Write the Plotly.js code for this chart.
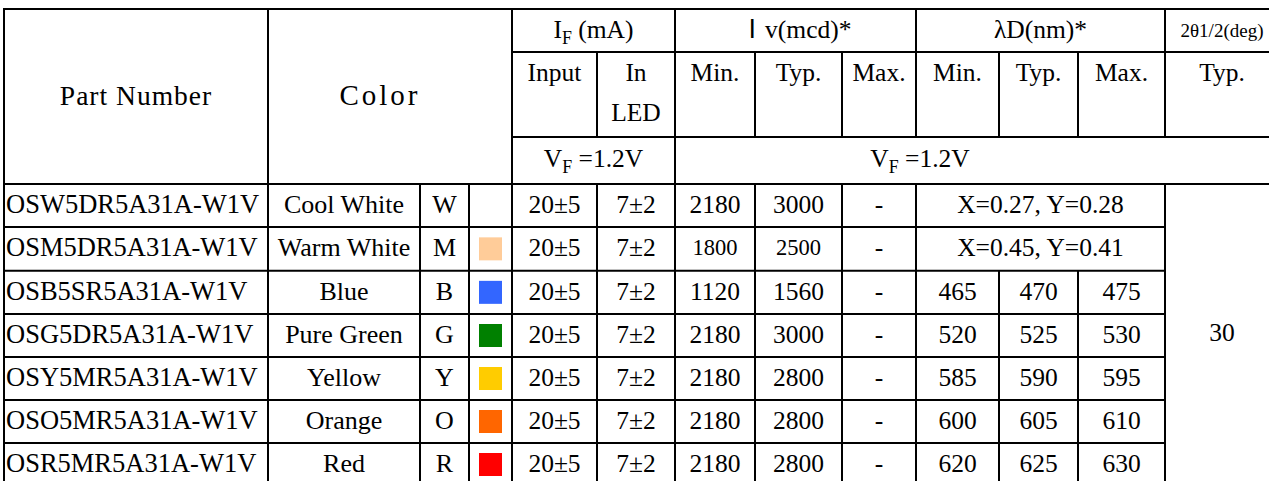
<!DOCTYPE html>
<html>
<head>
<meta charset="utf-8">
<script src="https://cdn.plot.ly/plotly-3.0.1.min.js"></script>
<style>html,body{margin:0;padding:0;background:#fff;}#chart{width:1269px;height:481px;}</style>
</head>
<body>
<div id="chart"></div>
<script>
// ---------- data ----------
const partNumbers = ["OSW5DR5A31A-W1V","OSM5DR5A31A-W1V","OSB5SR5A31A-W1V","OSG5DR5A31A-W1V","OSY5MR5A31A-W1V","OSO5MR5A31A-W1V","OSR5MR5A31A-W1V"];
const colorNames  = ["Cool White","Warm White","Blue","Pure Green","Yellow","Orange","Red"];
const colorCodes  = ["W","M","B","G","Y","O","R"];
const swatchColors = [null,"#FFCC99","#3366FF","#008000","#FFCC00","#FF6600","#FF0000"];
const ifInput = ["20±5","20±5","20±5","20±5","20±5","20±5","20±5"];
const ifLed   = ["7±2","7±2","7±2","7±2","7±2","7±2","7±2"];
const ivMin = [2180,1800,1120,2180,2180,2180,2180];
const ivTyp = [3000,2500,1560,3000,2800,2800,2800];
const ivMax = ["-","-","-","-","-","-","-"];
const chromaticity = ["X=0.27, Y=0.28","X=0.45, Y=0.41",null,null,null,null,null];
const ldMin = [null,null,465,520,585,600,620];
const ldTyp = [null,null,470,525,590,605,625];
const ldMax = [null,null,475,530,595,610,630];
const viewAngle = 30;
const headerMain = ["Part Number","Color"];
const headerTop = ["I<sub>F</sub> (mA)","<span style=\"font-family:'Noto Sans CJK JP'\">Ⅰ</span>v(mcd)*","λD(nm)*","2θ1/2(deg)"];
const headerSub = ["Input","In","Min.","Typ.","Max.","Min.","Typ.","Max.","Typ."];
const headerSub2 = ["LED"];
const vfLabels = ["V<sub>F</sub> =1.2V","V<sub>F</sub> =1.2V"];

// ---------- layout geometry ----------
const W = 1269, H = 481;
const cx = [4,268,420,469,512,597,675,755,842,916,999,1078,1165,1277];
const rowTop = [184,227,270.7,314,357,400,443,486];
const hy = {top:9, r1:52, r2:137, r3:184};
const FONT = "Liberation Serif, Times New Roman, serif";
const mid = (a,b)=>(a+b)/2;

// ---------- text traces ----------
const tx=[], ty=[], tt=[], ts=[];
function put(x,y,t,s){ if(t===null||t===undefined) return; tx.push(x); ty.push(y); tt.push(String(t)); ts.push(s||25.5); }

// header
put(136, 98, '<span style="letter-spacing:1px">'+headerMain[0]+'</span>', 27.5);
put(380, 98, '<span style="letter-spacing:3px">'+headerMain[1]+'</span>', 29);
put(mid(cx[4],cx[6]), 32, headerTop[0]);
put(mid(cx[6],cx[9]), 32, headerTop[1]);
put(mid(cx[9],cx[12]), 32, headerTop[2]);
put(1222, 32, headerTop[3], 19);
const subCols = [[4,5],[5,6],[6,7],[7,8],[8,9],[9,10],[10,11],[11,12]];
subCols.forEach((c,i)=>put(mid(cx[c[0]],cx[c[1]]), 75, headerSub[i]));
put(1222, 75, headerSub[8]);
put(mid(cx[5],cx[6]), 115, headerSub2[0]);
put(mid(cx[4],cx[6]), 161, vfLabels[0]);
put(mid(cx[6],cx[12]), 161, vfLabels[1]);

// body
for(let i=0;i<partNumbers.length;i++){
  const y = mid(rowTop[i],rowTop[i+1]) + 1;
  const small = (i===1)?22.5:25.5;
  put(mid(cx[1],cx[2]), y, colorNames[i], 26);
  put(mid(cx[2],cx[3]), y, colorCodes[i], 26);
  put(mid(cx[4],cx[5]), y, ifInput[i]);
  put(mid(cx[5],cx[6]), y, ifLed[i]);
  put(mid(cx[6],cx[7]), y, ivMin[i], small);
  put(mid(cx[7],cx[8]), y, ivTyp[i], small);
  put(mid(cx[8],cx[9]), y, ivMax[i]);
  put(mid(cx[9],cx[12]), y, chromaticity[i]);
  put(mid(cx[9],cx[10]), y, ldMin[i]);
  put(mid(cx[10],cx[11]), y, ldTyp[i]);
  put(mid(cx[11],cx[12]), y, ldMax[i]);
}
put(1222, mid(rowTop[0],rowTop[rowTop.length-1]), viewAngle);

const textTrace = {
  type:"scatter", mode:"text", x:tx, y:ty, text:tt,
  textposition:"middle center",
  textfont:{family:FONT, size:ts, color:"#000"},
  hoverinfo:"skip", showlegend:false, cliponaxis:false
};

const partTrace = {
  type:"scatter", mode:"text",
  x: partNumbers.map(()=>6),
  y: partNumbers.map((_,i)=>mid(rowTop[i],rowTop[i+1])+1),
  text: partNumbers,
  textposition:"middle right",
  textfont:{family:FONT, size:26.5, color:"#000"},
  hoverinfo:"skip", showlegend:false, cliponaxis:false
};

const swIdx = swatchColors.map((c,i)=>c?i:-1).filter(i=>i>=0);
const swatchTrace = {
  type:"scatter", mode:"markers",
  x: swIdx.map(()=>mid(cx[3],cx[4])),
  y: swIdx.map(i=>mid(rowTop[i],rowTop[i+1])),
  marker:{symbol:"square", size:23, color:swIdx.map(i=>swatchColors[i]), line:{width:0}},
  hoverinfo:"skip", showlegend:false, cliponaxis:false
};

// ---------- grid lines ----------
const shapes = [];
function hl(y,x0,x1){ shapes.push({type:"line",xref:"x",yref:"y",x0:x0,x1:x1,y0:y,y1:y,line:{color:"#000",width:2}}); }
function vl(x,y0,y1){ shapes.push({type:"line",xref:"x",yref:"y",x0:x,x1:x,y0:y0,y1:y1,line:{color:"#000",width:2}}); }
const bottom = rowTop[rowTop.length-1];
hl(hy.top, cx[0]-1, W+5);
hl(hy.r1, cx[4], W+5);
hl(hy.r2, cx[4], W+5);
hl(hy.r3, cx[0]-1, W+5);
for(let i=1;i<rowTop.length-1;i++) hl(rowTop[i], cx[0]-1, cx[12]);
[0,1,4,6].forEach(k=>vl(cx[k], hy.top-1, bottom));
[2,3].forEach(k=>vl(cx[k], hy.r3, bottom));
[5,7,8].forEach(k=>{vl(cx[k], hy.r1, hy.r2); vl(cx[k], hy.r3, bottom);});
[9,12].forEach(k=>{vl(cx[k], hy.top, hy.r2); vl(cx[k], hy.r3, bottom);});
[10,11].forEach(k=>{vl(cx[k], hy.r1, hy.r2); vl(cx[k], rowTop[2], bottom);});

const layout = {
  width:W, height:H,
  margin:{l:0,r:0,t:0,b:0,pad:0},
  paper_bgcolor:"#fff", plot_bgcolor:"#fff",
  xaxis:{range:[0,W], visible:false, fixedrange:true},
  yaxis:{range:[H,0], visible:false, fixedrange:true},
  shapes:shapes,
  showlegend:false
};

Plotly.newPlot("chart",[swatchTrace,textTrace,partTrace],layout,{displayModeBar:false,staticPlot:true});
</script>
</body>
</html>
